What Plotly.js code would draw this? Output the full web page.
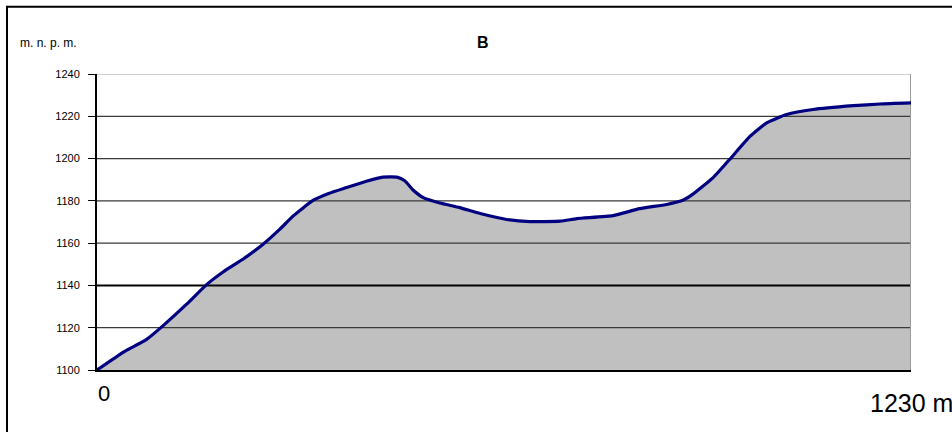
<!DOCTYPE html>
<html>
<head>
<meta charset="utf-8">
<script src="https://cdn.plot.ly/plotly-3.0.1.min.js"></script>
<style>html,body{margin:0;padding:0;background:#fff;}#chart{width:952px;height:432px;}</style>
</head>
<body>
<div id="chart"></div>
<script>
// distance along profile (m)
var distance = [0, 40, 75, 100, 135, 166, 191, 221, 251, 276, 297, 327, 350, 377, 407, 432, 453, 465, 478, 493, 518, 548, 579, 619, 654, 700, 725, 780, 820, 861, 886, 901, 931, 956, 987, 1012, 1042, 1082, 1143, 1183, 1230];
// elevation (m n.p.m.)
var elevation = [1100, 1108.5, 1114.5, 1121, 1131, 1140.5, 1146.5, 1152.5, 1159.5, 1166.5, 1173, 1180.3, 1183.5, 1186.3, 1189.3, 1191.2, 1191.2, 1189.5, 1185, 1181.5, 1179, 1176.8, 1174, 1171.2, 1170.2, 1170.4, 1171.6, 1173, 1176.3, 1178.3, 1180.4, 1183.3, 1191, 1199.6, 1210.6, 1216.9, 1220.8, 1223.2, 1225, 1225.8, 1226.3];
var yTicks = [1100, 1120, 1140, 1160, 1180, 1200, 1220, 1240];
var yTickLabels = ['1100', '1120', '1140', '1160', '1180', '1200', '1220', '1240'];
var xStartLabel = '0';
var xEndLabel = '1230 m';
var yUnitLabel = 'm. n. p. m.';
var chartTitle = 'B';

var xMax = distance[distance.length - 1];
var traces = [];
traces.push({
  x: distance, y: elevation, type: 'scatter', mode: 'lines',
  line: {width: 0, shape: 'spline', smoothing: 0.5, color: 'rgba(0,0,0,0)'},
  fill: 'tozeroy', fillcolor: '#C0C0C0', hoverinfo: 'skip'
});
yTicks.forEach(function (t) {
  if (t === yTicks[0]) return;
  var isTop = t === yTicks[yTicks.length - 1];
  traces.push({
    x: [0, xMax], y: [t, t], type: 'scatter', mode: 'lines',
    line: {width: t === 1140 ? 2 : 1.2, color: isTop ? '#A0A0A0' : (t === 1140 ? '#000000' : '#3a3a3a')},
    hoverinfo: 'skip'
  });
});
traces.push({
  x: [xMax, xMax], y: [yTicks[0], yTicks[yTicks.length - 1]], type: 'scatter', mode: 'lines',
  line: {width: 2, color: '#9a9a9a'}, hoverinfo: 'skip'
});
traces.push({
  x: distance, y: elevation, type: 'scatter', mode: 'lines',
  line: {width: 3.2, shape: 'spline', smoothing: 0.5, color: '#000080'},
  hoverinfo: 'skip'
});

var layout = {
  width: 952, height: 432,
  margin: {l: 97, r: 41, t: 73.5, b: 61.5},
  paper_bgcolor: '#ffffff', plot_bgcolor: '#ffffff',
  showlegend: false,
  font: {family: 'Liberation Sans, Arial, sans-serif', color: '#000'},
  xaxis: {
    range: [0, xMax], showgrid: false, zeroline: false, showticklabels: false,
    showline: true, linecolor: '#000', linewidth: 2, ticks: '', fixedrange: true
  },
  yaxis: {
    range: [yTicks[0], yTicks[yTicks.length - 1]], showgrid: false, zeroline: false,
    tickvals: yTicks, ticktext: yTickLabels,
    ticks: 'outside', ticklen: 7, tickwidth: 1, tickcolor: '#000',
    ticklabelstandoff: 6,
    tickfont: {size: 11, family: 'Liberation Sans, Arial, sans-serif', color: '#000'},
    showline: true, linecolor: '#000', linewidth: 2, fixedrange: true
  },
  annotations: [
    {text: '<b>' + chartTitle + '</b>', xref: 'paper', yref: 'paper', x: (483 - 97) / 814, y: (370.5 - 42) / 297,
     xanchor: 'center', yanchor: 'middle', showarrow: false, font: {size: 16, color: '#000'}},
    {text: yUnitLabel, xref: 'paper', yref: 'paper', x: (18 - 97) / 814, y: (370.5 - 42) / 297,
     xanchor: 'left', yanchor: 'middle', showarrow: false, font: {size: 12, color: '#000'}},
    {text: xStartLabel, xref: 'x', yref: 'paper', x: 0, xshift: 7, y: (370.5 - 394) / 297,
     xanchor: 'center', yanchor: 'middle', showarrow: false, font: {size: 22, color: '#000'}},
    {text: xEndLabel, xref: 'paper', yref: 'paper', x: 1, xshift: -43, y: (370.5 - 404) / 297,
     xanchor: 'left', yanchor: 'middle', showarrow: false, font: {size: 25, color: '#000'}}
  ],
  shapes: [
    {type: 'rect', xref: 'paper', yref: 'paper', x0: (7 - 97) / 814, x1: 1.2, y0: -0.5, y1: (370.5 - 6) / 297,
     line: {color: '#000', width: 2}, fillcolor: 'rgba(0,0,0,0)', layer: 'below'}
  ]
};
Plotly.newPlot('chart', traces, layout, {staticPlot: true, displayModeBar: false});
</script>
</body>
</html>
